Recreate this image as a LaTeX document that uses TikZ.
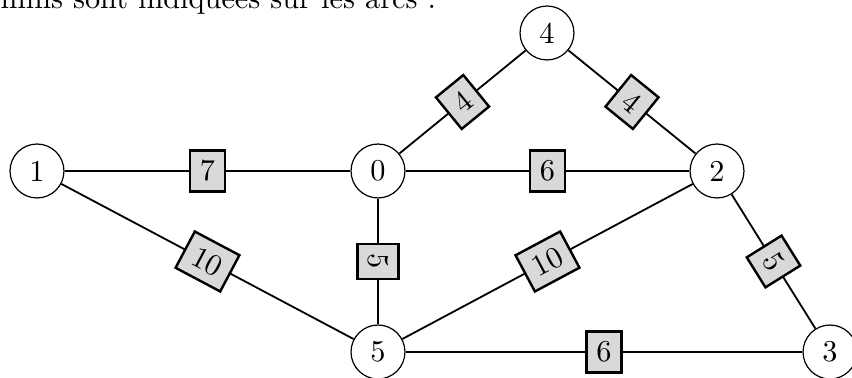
\documentclass[tikz,border=0pt]{standalone}
\begin{document}
\begin{tikzpicture}[x=0.33pt,y=-0.33pt,
  vertex/.style={circle,draw,thin,fill=white,minimum size=17.8pt,inner sep=0pt},
  edge/.style={draw,semithick},
  weight/.style={rectangle,draw,thick,fill=gray!30,sloped,midway}]
\useasboundingbox (0,0) rectangle (852,378);
\node[anchor=base west,inner sep=0pt] (title) at (0,9) {mins sont indiquées sur les arcs :};
\node[vertex] (v1) at (37,171) {1};
\node[vertex] (v0) at (378,171) {0};
\node[vertex] (v2) at (717,171) {2};
\node[vertex] (v4) at (547,33) {4};
\node[vertex] (v5) at (378,352) {5};
\node[vertex] (v3) at (830,352) {3};
\path[edge] (v1) -- node[weight] {7} (v0);
\path[edge] (v1) -- node[weight] {10} (v5);
\path[edge] (v0) -- node[weight] {4} (v4);
\path[edge] (v4) -- node[weight] {4} (v2);
\path[edge] (v0) -- node[weight] {6} (v2);
\path[edge] (v0) -- node[weight] {5} (v5);
\path[edge] (v5) -- node[weight] {10} (v2);
\path[edge] (v2) -- node[weight] {5} (v3);
\path[edge] (v5) -- node[weight] {6} (v3);
\end{tikzpicture}
\end{document}
